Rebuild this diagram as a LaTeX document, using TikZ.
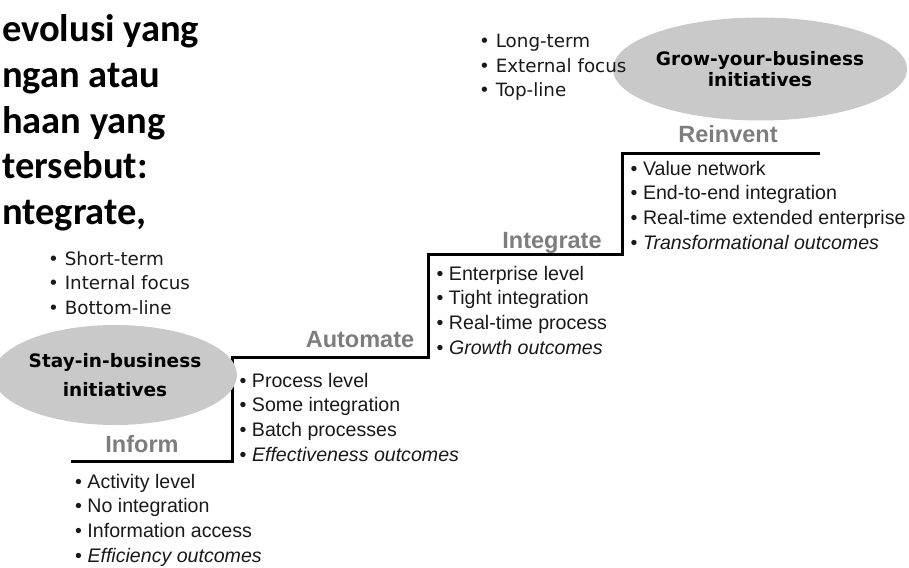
\documentclass[tikz,border=0pt]{standalone}
\usepackage{fontspec}
\setmainfont{Liberation Sans}
\newfontfamily\slidefont{Carlito}
\newfontfamily\notefont{DejaVu Sans}
\usetikzlibrary{shapes.geometric}
\definecolor{ovalgray}{RGB}{201,201,201}
\definecolor{stagegray}{RGB}{125,125,125}
\definecolor{itemblack}{RGB}{25,25,25}

\begin{document}
\begin{tikzpicture}[x=1pt,y=-1pt,
  stair/.style={line width=3pt,line join=miter},
  oval/.style={ellipse,fill=ovalgray,inner sep=0pt,align=center,font=\notefont\bfseries\fontsize{18.5}{29}\selectfont},
  stage/.style={anchor=base,inner sep=0pt,text=stagegray,font=\bfseries\fontsize{23.5}{23.5}\selectfont},
  item/.style={anchor=base west,inner sep=0pt,text=itemblack,font=\fontsize{19.6}{19.6}\selectfont},
  trait/.style={anchor=base west,inner sep=0pt,text=itemblack,font=\notefont\fontsize{18.3}{18.3}\selectfont},
  slide/.style={anchor=base west,inner sep=0pt,font=\slidefont\bfseries\fontsize{38.5}{38.5}\selectfont}]
\useasboundingbox (0,0) rectangle (909,567);
% cut-off slide text, top left
\foreach \txt [count=\i from 0] in {evolusi yang,ngan atau,haan yang,tersebut:,{ntegrate,}}
  \node[slide] (slide-\i) at (2,42+45.5*\i) {\txt};
% the staircase
\coordinate (s0) at (71,461);  \coordinate (s1) at (232,461);
\coordinate (s2) at (232,357); \coordinate (s3) at (428,357);
\coordinate (s4) at (428,254); \coordinate (s5) at (622,254);
\coordinate (s6) at (622,153); \coordinate (s7) at (820,153);
\draw[stair] (s0) -- (s1) -- (s2) -- (s3) -- (s4) -- (s5) -- (s6) -- (s7);
% stage names
\node[stage] (inform)    at (142,452) {Inform};
\node[stage] (automate)  at (360,347) {Automate};
\node[stage] (integrate) at (552,248) {Integrate};
\node[stage] (reinvent)  at (728,142) {Reinvent};
% stage details
\foreach \txt [count=\i from 0] in {Activity level,No integration,Information access,\textit{Efficiency outcomes}}
  \node[item] (inf-\i) at (75,488+24.7*\i) {\textbullet\ \txt};
\foreach \txt [count=\i from 0] in {Process level,Some integration,Batch processes,\textit{Effectiveness outcomes}}
  \node[item] (aut-\i) at (239.5,387+24.7*\i) {\textbullet\ \txt};
\foreach \txt [count=\i from 0] in {Enterprise level,Tight integration,Real-time process,\textit{Growth outcomes}}
  \node[item] (int-\i) at (436.5,280+24.7*\i) {\textbullet\ \txt};
\foreach \txt [count=\i from 0] in {Value network,End-to-end integration,Real-time extended enterprise,\textit{Transformational outcomes}}
  \node[item] (rei-\i) at (630.5,175+24.7*\i) {\textbullet\ \txt};
% initiatives
\node[oval,minimum width=204pt,minimum height=100pt] (stay) at (115,375) {Stay-in-business\\initiatives};
\node[oval,minimum width=245pt,minimum height=103pt,font=\notefont\bfseries\fontsize{18.5}{21.5}\selectfont] (grow) at (760,69) {Grow-your-business\\initiatives};
\foreach \txt [count=\i from 0] in {Short-term,Internal focus,Bottom-line}
  \node[trait] (short-\i) at (48,265+24.5*\i) {\textbullet\ \txt};
\foreach \txt [count=\i from 0] in {Long-term,External focus,Top-line}
  \node[trait] (long-\i) at (479,48+24.5*\i) {\textbullet\ \txt};
\end{tikzpicture}
\end{document}
